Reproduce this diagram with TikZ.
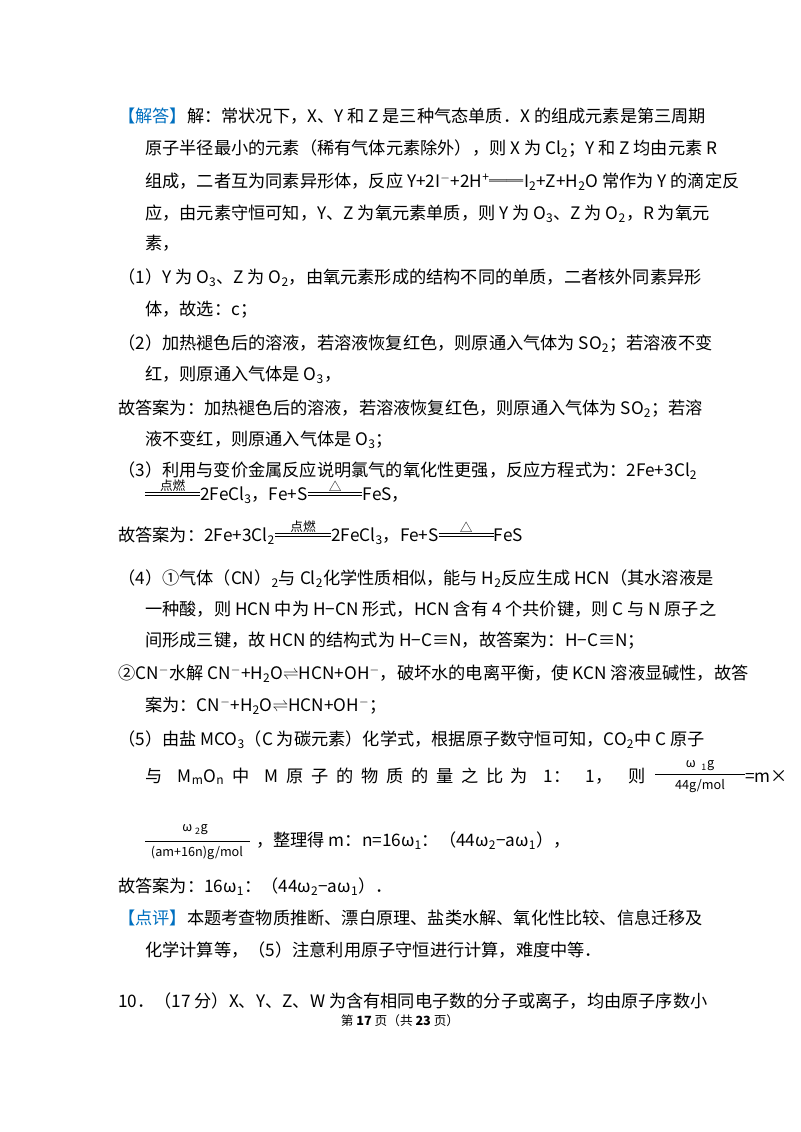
\documentclass[tikz,border=0pt]{standalone}
\usepackage{fontspec}
\setmainfont{Noto Sans CJK SC}
\newcommand\sbs[1]{\textsubscript{#1}}
\newcommand\sps[1]{\textsuperscript{#1}}
\newcommand\mn{$^{-}$}
\begin{document}
\begin{tikzpicture}[x=0.75pt,y=-0.75pt,
  ln/.style={anchor=base west,inner sep=0pt,font=\fontsize{12.9pt}{14pt}\selectfont},
  sm/.style={inner sep=0pt,font=\fontsize{9.5pt}{10pt}\selectfont},
  lab/.style={anchor=south,inner sep=0.5pt,font=\fontsize{9.5pt}{10pt}\selectfont},
  dbl/.style={double,double distance=1.6pt,line width=0.5pt}]
\useasboundingbox (0,0) rectangle (800,1132);
\fill[white] (0,0) rectangle (800,1132);
\node[ln] (l1) at (118,122) {\textcolor[RGB]{0,112,192}{【解答】}解：常状况下，X、Y 和 Z 是三种气态单质．X 的组成元素是第三周期};
\node[ln] (l2) at (145,154) {原子半径最小的元素（稀有气体元素除外），则 X 为 Cl\sbs{2}；Y 和 Z 均由元素 R};
\node[ln] (l3) at (145,187) {组成，二者互为同素异形体，反应 Y+2I\mn+2H\sps{+}══I\sbs{2}+Z+H\sbs{2}O 常作为 Y 的滴定反};
\node[ln] (l4) at (145,219) {应，由元素守恒可知，Y、Z 为氧元素单质，则 Y 为 O\sbs{3}、Z 为 O\sbs{2}，R 为氧元};
\node[ln] (l5) at (145,249) {素，};
\node[ln] (l6) at (118,283) {（1）Y 为 O\sbs{3}、Z 为 O\sbs{2}，由氧元素形成的结构不同的单质，二者核外同素异形};
\node[ln] (l7) at (145,315) {体，故选：c；};
\node[ln] (l8) at (118,349) {（2）加热褪色后的溶液，若溶液恢复红色，则原通入气体为 SO\sbs{2}；若溶液不变};
\node[ln] (l9) at (145,380) {红，则原通入气体是 O\sbs{3}，};
\node[ln] (l10) at (118,414) {故答案为：加热褪色后的溶液，若溶液恢复红色，则原通入气体为 SO\sbs{2}；若溶};
\node[ln] (l11) at (145,445) {液不变红，则原通入气体是 O\sbs{3}；};
\node[ln] (l12) at (118,476) {（3）利用与变价金属反应说明氯气的氧化性更强，反应方程式为：2Fe+3Cl\sbs{2}};
% line 13
\draw[dbl] (145,494) -- (200,494) coordinate (e0);
\node[lab] (d1) at ([xshift=-20.5pt,yshift=1pt]e0) {点燃};
\node[ln] (l13) at (200,500) {2FeCl\sbs{3}，Fe+S};
\draw[dbl] ([yshift=4.5pt]l13.base east) -- ++(41pt,0pt) coordinate (e1);
\node[lab] (t1) at ([xshift=-20.5pt,yshift=1pt]e1) {△};
\node[ln] (l13b) at ([yshift=-4.5pt]e1) {FeS，};
% line 14
\node[ln] (l14) at (118,541) {故答案为：2Fe+3Cl\sbs{2}};
\draw[dbl] ([yshift=4.5pt]l14.base east) -- ++(42pt,0pt) coordinate (e2);
\node[lab] (d2) at ([xshift=-21pt,yshift=1pt]e2) {点燃};
\node[ln] (l14b) at ([yshift=-4.5pt]e2) {2FeCl\sbs{3}，Fe+S};
\draw[dbl] ([yshift=4.5pt]l14b.base east) -- ++(41pt,0pt) coordinate (e3);
\node[lab] (t2) at ([xshift=-20.5pt,yshift=1pt]e3) {△};
\node[ln] (l14c) at ([yshift=-4.5pt]e3) {FeS};
\node[ln] (l15) at (118,584) {（4）①气体（CN）\sbs{2}与 Cl\sbs{2}化学性质相似，能与 H\sbs{2}反应生成 HCN（其水溶液是};
\node[ln] (l16) at (145,615) {一种酸，则 HCN 中为 H−CN 形式，HCN 含有 4 个共价键，则 C 与 N 原子之};
\node[ln] (l17) at (145,646) {间形成三键，故 HCN 的结构式为 H−C≡N，故答案为：H−C≡N；};
\node[ln] (l18) at (118,679) {②CN\mn 水解 CN\mn+H\sbs{2}O$\rightleftharpoons$HCN+OH\mn，破坏水的电离平衡，使 KCN 溶液显碱性，故答};
\node[ln] (l19) at (145,711) {案为：CN\mn+H\sbs{2}O$\rightleftharpoons$HCN+OH\mn；};
\node[ln] (l20) at (118,745) {（5）由盐 MCO\sbs{3}（C 为碳元素）化学式，根据原子数守恒可知，CO\sbs{2}中 C 原子};
\node[ln] (l21) at (145,782) {\makebox[375pt][s]{与 \ M\sbs{m}O\sbs{n} 中 \ M 原 子 的 物 质 的 量 之 比 为 \ 1： \ 1， \ 则}};
\node[sm] (f1n) at (700,766) {ω\ \ \sbs{1}g};
\draw (655,774) -- (745,774);
\node[sm] (f1d) at (700,786) {44g/mol};
\node[ln] (l21b) at (745,782) {=m×};
\node[sm] (f2n) at (195,830) {ω\ \sbs{2}g};
\draw (145,841) -- (250,841);
\node[sm] (f2d) at (197,853) {(am+16n)g/mol};
\node[ln] (l22) at (256,846) {，整理得 m：n=16ω\sbs{1}：（44ω\sbs{2}−aω\sbs{1}），};
\node[ln] (l23) at (118,892) {故答案为：16ω\sbs{1}：（44ω\sbs{2}−aω\sbs{1}）．};
\node[ln] (l24) at (118,924) {\textcolor[RGB]{0,112,192}{【点评】}本题考查物质推断、漂白原理、盐类水解、氧化性比较、信息迁移及};
\node[ln] (l25) at (145,956) {化学计算等，（5）注意利用原子守恒进行计算，难度中等．};
\node[ln] (l26) at (118,1007) {10．（17 分）X、Y、Z、W 为含有相同电子数的分子或离子，均由原子序数小};
\node[anchor=base,inner sep=0pt,font=\fontsize{9.5pt}{11pt}\selectfont] (ft) at (400,1025) {第 \textbf{17} 页（共 \textbf{23} 页）};
\end{tikzpicture}
\end{document}
